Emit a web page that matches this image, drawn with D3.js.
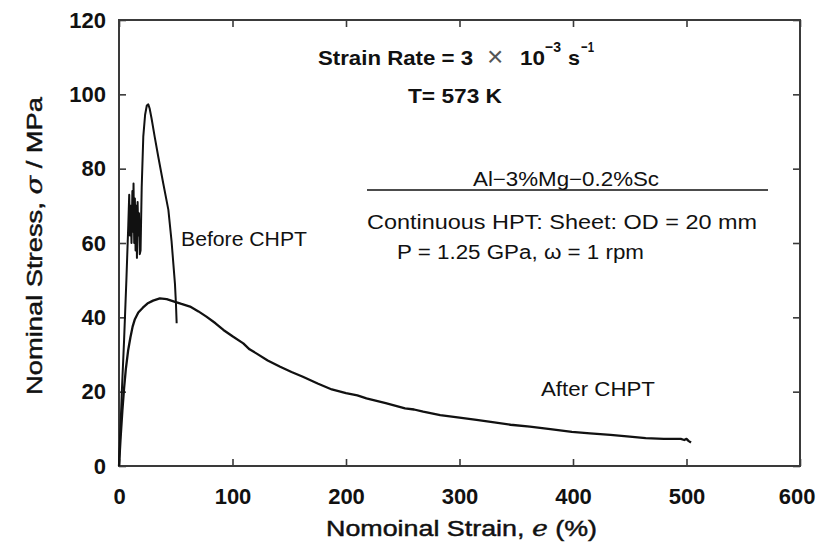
<!DOCTYPE html>
<html>
<head>
<meta charset="utf-8">
<script src="https://cdn.jsdelivr.net/npm/d3@7"></script>
<style>
  html, body { margin: 0; padding: 0; background: #fff; }
  svg { display: block; font-family: "Liberation Sans", Arial, sans-serif; }
</style>
</head>
<body>
<svg id="chart" width="816" height="549"></svg>
<script>
// ---- data ----
const xTicks = [0, 100, 200, 300, 400, 500, 600];
const yTicks = [0, 20, 40, 60, 80, 100, 120];

// Before CHPT: [strain %, stress MPa]
const beforeCurve = [
  [0, 0], [2.5, 20], [4.5, 34], [6.5, 50], [8.2, 65], [9.0, 73], [9.6, 62], [10.3, 70],
  [11.0, 60], [11.8, 74], [12.4, 63], [12.8, 76], [13.4, 60], [14.0, 72], [14.6, 58],
  [15.3, 70], [15.8, 56], [16.4, 71], [17.0, 62], [17.6, 68], [18.3, 57], [19.0, 58],
  [20.0, 75], [21.4, 88.6], [23.0, 94.5], [24.5, 97], [25.8, 97.3], [27.0, 96.2],
  [28.7, 93.5], [31.5, 88.5], [34.6, 83.2], [39.0, 76], [43.5, 68.9], [46.3, 60.5],
  [48.0, 54], [49.3, 49], [50.2, 43.5], [50.8, 38.4]
];

// After CHPT: [strain %, stress MPa]
const afterCurve = [
  [0, 0], [1.5, 8], [3, 15], [4.5, 21], [6, 26], [8, 31], [10, 34.5], [12, 37.5],
  [14, 39.5], [17, 41.3], [21, 42.6], [25, 43.7], [30, 44.5], [36, 45.1], [42, 44.9],
  [48, 44.3], [55, 43.6], [62.6, 42.9], [70, 41.6], [77, 40.2], [85, 38.4], [92, 36.6],
  [100, 34.9], [109.5, 33], [115, 31.4], [121, 30.3], [131, 28.4], [142, 26.7],
  [152, 25.3], [162, 24], [175, 22.2], [187.5, 20.6], [200, 19.6], [210, 19.0],
  [218, 18.2], [235, 16.9], [252, 15.5], [260, 15.2], [268, 14.6], [283, 13.7],
  [300, 13.0], [315, 12.4], [327.5, 11.9], [345, 11.1], [362, 10.6], [380, 9.9],
  [399, 9.2], [415, 8.8], [433, 8.4], [450, 7.9], [464, 7.5], [480, 7.3], [495, 7.3],
  [498, 7.0], [500, 7.3], [502, 6.7], [504, 6.3]
];

// ---- layout ----
const svg = d3.select("#chart");
const margin = { left: 119, right: 16, top: 20, bottom: 83 };
const W = 816, H = 549;
const x = d3.scaleLinear().domain([0, 600]).range([margin.left, W - margin.right]);
const y = d3.scaleLinear().domain([0, 120]).range([H - margin.bottom, margin.top]);

const frameColor = "#3a3a3a";
const tickLen = 7;

const axisBottom = d3.axisBottom(x).tickValues(xTicks).tickSize(tickLen).tickFormat(d3.format("d"));
const axisTop = d3.axisTop(x).tickValues(xTicks).tickSize(tickLen).tickFormat("");
const axisLeft = d3.axisLeft(y).tickValues(yTicks).tickSize(tickLen).tickFormat(d3.format("d"));
const axisRight = d3.axisRight(y).tickValues(yTicks).tickSize(tickLen).tickFormat("");

function styleAxis(g, inwardSign, horizontal) {
  g.select(".domain").remove();
  g.selectAll(".tick line")
    .attr("stroke", frameColor).attr("stroke-width", 1.6)
    .attr(horizontal ? "y2" : "x2", inwardSign * tickLen);
  g.selectAll(".tick text")
    .attr("fill", "#111")
    .style("font-family", "'Liberation Sans', Arial, sans-serif")
    .style("font-size", "22px")
    .style("font-weight", "bold");
}

const gB = svg.append("g").attr("transform", `translate(0,${y(0)})`).call(axisBottom);
styleAxis(gB, -1, true);
gB.selectAll(".tick text").attr("y", 22).attr("dy", "0.71em");
// keep the last label inside the page
gB.selectAll(".tick text").filter(d => d === 600).attr("text-anchor", "end").attr("x", 15);
const gT = svg.append("g").attr("transform", `translate(0,${y(120)})`).call(axisTop);
styleAxis(gT, 1, true);
const gL = svg.append("g").attr("transform", `translate(${x(0)},0)`).call(axisLeft);
styleAxis(gL, 1, false);
gL.selectAll(".tick text").attr("x", -13);
const gR = svg.append("g").attr("transform", `translate(${x(600)},0)`).call(axisRight);
styleAxis(gR, -1, false);

// frame
svg.append("rect")
  .attr("x", x(0)).attr("y", y(120))
  .attr("width", x(600) - x(0)).attr("height", y(0) - y(120))
  .attr("fill", "none").attr("stroke", frameColor).attr("stroke-width", 2);

// curves
const line = d3.line().x(d => x(d[0])).y(d => y(d[1]));
svg.append("path").datum(beforeCurve)
  .attr("d", line).attr("fill", "none").attr("stroke", "#111")
  .attr("stroke-width", 2).attr("stroke-linejoin", "round");
svg.append("path").datum(afterCurve)
  .attr("d", line).attr("fill", "none").attr("stroke", "#111")
  .attr("stroke-width", 2.3).attr("stroke-linejoin", "round");

// axis titles (medium weight look)
svg.append("text")
  .attr("x", 326).attr("y", 536)
  .attr("textLength", 271).attr("lengthAdjust", "spacingAndGlyphs")
  .style("font-size", "22px").attr("fill", "#111")
  .attr("stroke", "#111").attr("stroke-width", 0.45)
  .html('Nomoinal Strain, <tspan font-style="italic" font-family="DejaVu Serif, serif">e</tspan> (%)');

svg.append("text")
  .attr("transform", "translate(42,395) rotate(-90)")
  .attr("textLength", 298).attr("lengthAdjust", "spacingAndGlyphs")
  .style("font-size", "22px").attr("fill", "#111")
  .attr("stroke", "#111").attr("stroke-width", 0.45)
  .html('Nominal Stress, <tspan font-style="italic" font-family="DejaVu Serif, serif">σ</tspan> / MPa');

// annotations
const ann = svg.append("g").attr("fill", "#111");
const boldTxt = (tx, ty, s, size, len) => {
  const t = ann.append("text").attr("x", tx).attr("y", ty)
    .style("font-size", size + "px").style("font-weight", "bold").text(s);
  if (len) t.attr("textLength", len).attr("lengthAdjust", "spacingAndGlyphs");
  return t;
};
boldTxt(318, 65, "Strain Rate = 3", 21, 155);
ann.append("text").attr("x", 487).attr("y", 66).style("font-size", "28px")
  .attr("fill", "#555").text("×");
boldTxt(520, 65, "10", 21, 25);
boldTxt(545, 52, "−3", 15, 16);
boldTxt(568, 65, "s", 21, 12);
boldTxt(581, 52, "−1", 15, 13);
boldTxt(408, 103, "T= 573 K", 21, 94);

const reg = (tx, ty, s, len) => ann.append("text").attr("x", tx).attr("y", ty)
  .style("font-size", "20px").attr("textLength", len)
  .attr("lengthAdjust", "spacingAndGlyphs").text(s);

reg(473, 186, "Al−3%Mg−0.2%Sc", 186);
svg.append("line").attr("x1", 367).attr("x2", 768).attr("y1", 190).attr("y2", 190)
  .attr("stroke", "#111").attr("stroke-width", 1.6);
reg(367, 229, "Continuous HPT: Sheet: OD = 20 mm", 390);
reg(397, 259, "P = 1.25 GPa, ω = 1 rpm", 247);
reg(181, 246, "Before CHPT", 126);
reg(541, 396, "After CHPT", 114);
</script>
</body>
</html>
